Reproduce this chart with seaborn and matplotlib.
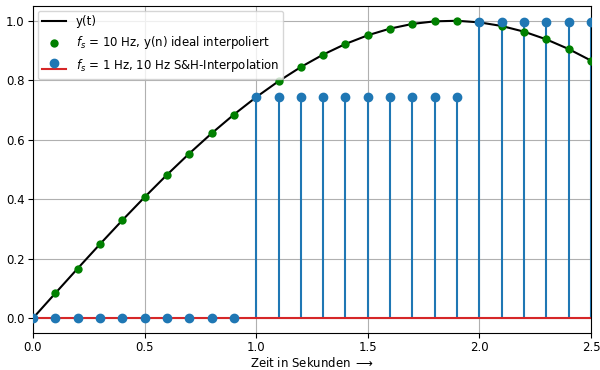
"""
Abtastung und Interpolation: y(t), ideal interpolierte Abtastwerte, S&H
"""
import matplotlib
matplotlib.use('Agg')
import matplotlib.pyplot as plt
import numpy as np
import seaborn as sns

# Zeitpunkte (10 Hz Raster)
t = [0.0, 0.1, 0.2, 0.3, 0.4, 0.5, 0.6, 0.7, 0.8, 0.9,
     1.0, 1.1, 1.2, 1.3, 1.4, 1.5, 1.6, 1.7, 1.8, 1.9,
     2.0, 2.1, 2.2, 2.3, 2.4, 2.5]

# y(t) bzw. y(n) bei 10 Hz
y = [0.0, 0.0837, 0.1668, 0.2487, 0.3289, 0.4067, 0.4818, 0.5534, 0.6211, 0.6845,
     0.7431, 0.7965, 0.8443, 0.8862, 0.9219, 0.9511, 0.9736, 0.9893, 0.9980, 0.9998,
     0.9945, 0.9823, 0.9632, 0.9373, 0.9048, 0.8660]

# 1 Hz abgetastet, mit 10 Hz Sample & Hold
y_sh = [0.0] * 10 + [0.7431] * 10 + [0.9945] * 6

plt.rcParams['font.size'] = 8.5
plt.rcParams['xtick.major.pad'] = 2.5
plt.rcParams['ytick.major.pad'] = 2.5

fig, ax = plt.subplots(figsize=(6.0, 3.7), dpi=100)

sns.lineplot(x=t, y=y, color='black', linewidth=1.5, label='y(t)', ax=ax)
sns.scatterplot(x=t, y=y, color='green', s=36, linewidth=0,
                label=r'$f_s$ = 10 Hz, y(n) ideal interpoliert', ax=ax, zorder=3)
markers, stems, base = ax.stem(t, y_sh, label=r'$f_s$ = 1 Hz, 10 Hz S&H-Interpolation')
base.set_color('C3')
markers.set_zorder(4)

ax.set_xlim(0, 2.5)
ax.set_xlabel('Zeit in Sekunden $\\longrightarrow$', labelpad=1)
ax.grid(True)
ax.legend(loc='upper left', borderaxespad=0.4)

fig.subplots_adjust(left=0.055, right=0.985, top=0.984, bottom=0.1)
fig.savefig('out.png', dpi=100)
